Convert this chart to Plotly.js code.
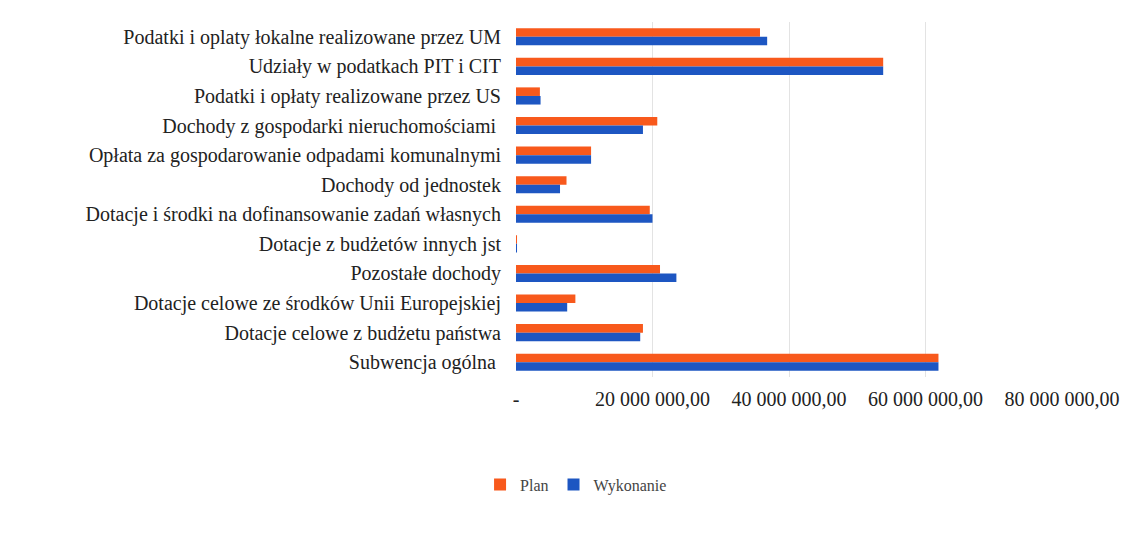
<!DOCTYPE html>
<html>
<head>
<meta charset="utf-8">
<script src="https://cdn.plot.ly/plotly-3.0.1.min.js"></script>
<style>html,body{margin:0;padding:0;background:#fff;}#chart{width:1130px;height:546px;}</style>
</head>
<body>
<div id="chart"></div>
<script>
const categories = [
  "Podatki i oplaty łokalne realizowane przez UM",
  "Udziały w podatkach PIT i CIT",
  "Podatki i opłaty realizowane przez US",
  "Dochody z gospodarki nieruchomościami ",
  "Opłata za gospodarowanie odpadami komunalnymi",
  "Dochody od jednostek",
  "Dotacje i środki na dofinansowanie zadań własnych",
  "Dotacje z budżetów innych jst",
  "Pozostałe dochody",
  "Dotacje celowe ze środków Unii Europejskiej",
  "Dotacje celowe z budżetu państwa",
  "Subwencja ogólna "
];
const planValues = [35750000, 53800000, 3500000, 20700000, 11000000, 7400000, 19600000, 150000, 21100000, 8700000, 18600000, 61900000];
const wykonanieValues = [36800000, 53800000, 3600000, 18600000, 11000000, 6450000, 20000000, 150000, 23500000, 7500000, 18200000, 61900000];
const tickValues = [0, 20000000, 40000000, 60000000, 80000000];
const tickLabels = ["-", "20 000 000,00", "40 000 000,00", "60 000 000,00", "80 000 000,00"];

const serif = "Liberation Serif, Times New Roman, serif";
const traces = [
  {type: "bar", orientation: "h", name: "Plan", y: categories, x: planValues,
   marker: {color: "#F8591C"}},
  {type: "bar", orientation: "h", name: "Wykonanie", y: categories, x: wykonanieValues,
   marker: {color: "#1D56C2"}}
];
const layout = {
  width: 1130, height: 546,
  margin: {l: 516, r: 68, t: 22, b: 169},
  paper_bgcolor: "#fff", plot_bgcolor: "#fff",
  barmode: "group", bargap: 0.42, bargroupgap: 0,
  showlegend: true,
  legend: {orientation: "h", x: 0.11, xanchor: "center", y: -0.255, yanchor: "top",
           font: {family: serif, size: 16, color: "#444"}, traceorder: "normal",
           itemwidth: 30},
  xaxis: {range: [0, 80000000], tickvals: tickValues, ticktext: tickLabels,
          showgrid: true, gridcolor: "#e3e3e3", gridwidth: 1, zeroline: false,
          showline: false, ticks: "", ticklabelstandoff: 8,
          tickfont: {family: serif, size: 20, color: "#222"}},
  yaxis: {autorange: "reversed", type: "category", showgrid: false, zeroline: false,
          showline: false, ticks: "", ticklen: 0, ticklabelstandoff: 14,
          tickfont: {family: serif, size: 20, color: "#222"}},
  font: {family: serif}
};
Plotly.newPlot("chart", traces, layout, {displayModeBar: false, staticPlot: true});
</script>
</body>
</html>
